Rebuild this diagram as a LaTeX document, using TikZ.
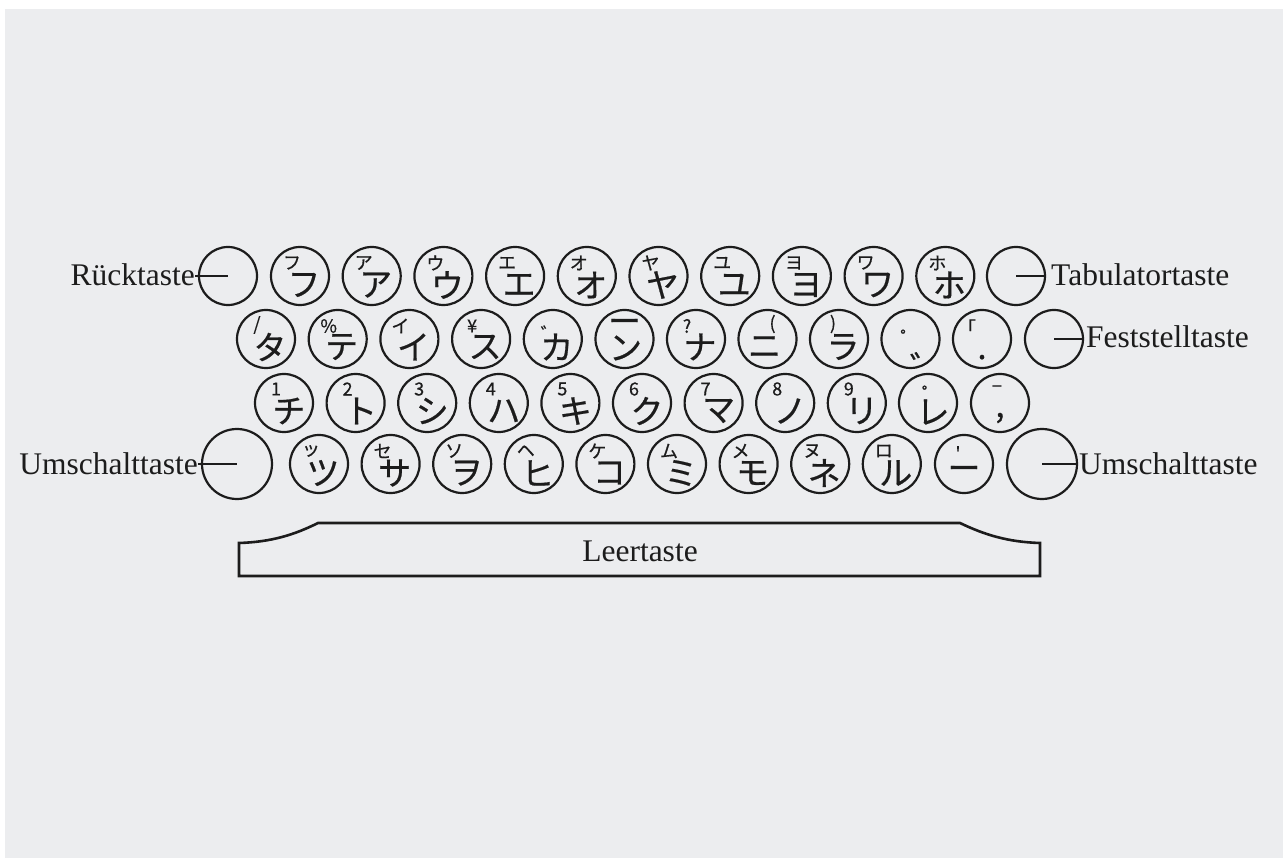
\documentclass[tikz,border=0pt]{standalone}
\usepackage{fontspec}
\setmainfont{Liberation Serif}
\newfontfamily\jp[FakeBold=0.6]{Noto Sans CJK JP}
\definecolor{bgc}{HTML}{ECEDEF}
\definecolor{ink}{HTML}{1C1C1C}
\tikzset{
  key/.style={circle,draw=ink,line width=2.2pt,minimum size=58pt,inner sep=0pt},
  bigkey/.style={circle,draw=ink,line width=2.2pt,minimum size=70pt,inner sep=0pt},
  glyph/.style={inner sep=0pt,text=ink},
  sm/.style={glyph,font=\jp\fontsize{18}{18}\selectfont},
  bg/.style={glyph,font=\jp\fontsize{33}{33}\selectfont},
  lbl/.style={inner sep=0pt,font=\fontsize{31.5}{31.5}\selectfont,text=ink},
  lead/.style={draw=ink,line width=1.3pt}
}
\begin{document}
\begin{tikzpicture}[x=1pt,y=-1pt]
\useasboundingbox (0,0) rectangle (1283,858);
\fill[white] (0,0) rectangle (1283,858);
\fill[bgc] (5,9) rectangle (1283,858);

% ---------- row 1 ----------
\node[key] (rueck) at (228,276) {};
\foreach \s/\b [count=\i] in {フ/フ,ア/ア,ウ/ウ,エ/エ,オ/オ,ヤ/ヤ,ユ/ユ,ヨ/ヨ,ワ/ワ,ホ/ホ}{
  \node[key] (a\i) at ({300+71.7*(\i-1)},276) {};
  \node[sm] (as\i) at ([shift={(-8,-13)}]a\i.center) {\s};
  \node[bg] (ab\i) at ([shift={(4,9)}]a\i.center) {\b};
}
\node[key] (tab) at (1016,276) {};
\node[lbl,anchor=base east] (lrueck) at (195,286) {Rücktaste};
\draw[lead] (lrueck.east |- rueck.center) -- (rueck.center);
\draw[lead] (tab.center) -- (tab.east);
\node[lbl,anchor=base west] (ltab) at (1051,286) {Tabulatortaste};

% ---------- row 2 ----------
\node[key] (b1) at (266,339) {};
\node[sm] (bs1) at ([shift={(-9,-14)}]b1.center) {/};
\node[bg] (bb1) at ([shift={(4,8)}]b1.center) {タ};
\foreach \s/\b [count=\i from 2] in {\%/テ,イ/イ,¥/ス}{
  \node[key] (b\i) at ({266+71.7*(\i-1)},339) {};
  \node[sm] (bs\i) at ([shift={(-9,-13)}]b\i.center) {\s};
  \node[bg] (bb\i) at ([shift={(4,8)}]b\i.center) {\b};
}
\node[key] (b5) at (552.8,339) {};
\node[sm] (bs5) at ([shift={(-3,-6)}]b5.center) {゛};
\node[bg] (bb5) at ([shift={(4,8)}]b5.center) {カ};
\node[key] (b6) at (624.5,339) {};
\node[bg] (bs6) at ([shift={(0,-13)}]b6.center) {ー};
\node[bg] (bb6) at ([shift={(1,9)}]b6.center) {ン};
\node[key] (b7) at (696,339) {};
\node[sm] (bs7) at ([shift={(-9,-13)}]b7.center) {?};
\node[bg] (bb7) at ([shift={(4,8)}]b7.center) {ナ};
\node[key] (b8) at (767.5,339) {};
\node[sm] (bs8) at ([shift={(5,-15)}]b8.center) {(};
\node[bg] (bb8) at ([shift={(-3,8)}]b8.center) {ニ};
\node[key] (b9) at (839,339) {};
\node[sm] (bs9) at ([shift={(-6,-15)}]b9.center) {)};
\node[bg] (bb9) at ([shift={(4,8)}]b9.center) {ラ};
\node[key] (b10) at (910.5,339) {};
\node[sm] (bs10) at ([shift={(-1,-2)}]b10.center) {゜};
\node[bg] (bb10) at ([shift={(16,27)}]b10.center) {゛};
\node[key] (b11) at (982,339) {};
\node[sm] (bs11) at ([shift={(-15,-12)}]b11.center) {「};
\node[bg,anchor=base] (bb11) at ([shift={(0,20)}]b11.center) {.};
\node[key] (fest) at (1054,339) {};
\draw[lead] (fest.center) -- (fest.east);
\node[lbl,anchor=base west] (lfest) at (1086,348) {Feststelltaste};

% ---------- row 3 ----------
\foreach \s/\b [count=\i] in {1/チ,2/ト,3/シ,4/ハ,5/キ,6/ク,7/マ,8/ノ,9/リ}{
  \node[key] (c\i) at ({284+71.6*(\i-1)},403) {};
  \node[sm] (cs\i) at ([shift={(-8,-14)}]c\i.center) {\s};
  \node[bg] (cb\i) at ([shift={(5,8)}]c\i.center) {\b};
}
\node[key] (c10) at (928,403) {};
\node[sm] (cs10) at ([shift={(3,-10)}]c10.center) {゜};
\node[bg] (cb10) at ([shift={(5,9)}]c10.center) {レ};
\node[key] (c11) at (1000,403) {};
\node[sm] (cs11) at ([shift={(-3,-14)}]c11.center) {−};
\node[bg,anchor=base] (cb11) at ([shift={(0,14)}]c11.center) {,};

% ---------- row 4 ----------
\node[bigkey] (shl) at (237,464) {};
\foreach \s/\b [count=\i] in {ッ/ツ,セ/サ,ソ/ヲ,ヘ/ヒ,ケ/コ,ム/ミ,メ/モ,ヌ/ネ,ロ/ル}{
  \node[key] (d\i) at ({319+71.6*(\i-1)},464) {};
  \node[sm] (ds\i) at ([shift={(-8,-13)}]d\i.center) {\s};
  \node[bg] (db\i) at ([shift={(4,9)}]d\i.center) {\b};
}
\node[key] (d10) at (964,464) {};
\node[sm] (ds10) at ([shift={(-6,-11)}]d10.center) {'};
\node[bg] (db10) at ([shift={(0,9)}]d10.center) {ー};
\node[bigkey] (shr) at (1042,464) {};
\node[lbl,anchor=base east] (lshl) at (198,475) {Umschalttaste};
\draw[lead] (lshl.east |- shl.center) -- (shl.center);
\draw[lead] (shr.center) -- (shr.east);
\node[lbl,anchor=base west] (lshr) at (1079,475) {Umschalttaste};

% ---------- space bar ----------
\draw[ink,line width=2.6pt,line join=miter]
  (239,543) -- (239,576) -- (1040,576) -- (1040,543)
  .. controls (1008,542) and (985,535) .. (960,523) -- (318,523)
  .. controls (294,535) and (271,542) .. (239,543) -- cycle;
\node[lbl] (leer) at (640,551) {Leertaste};
\end{tikzpicture}
\end{document}
